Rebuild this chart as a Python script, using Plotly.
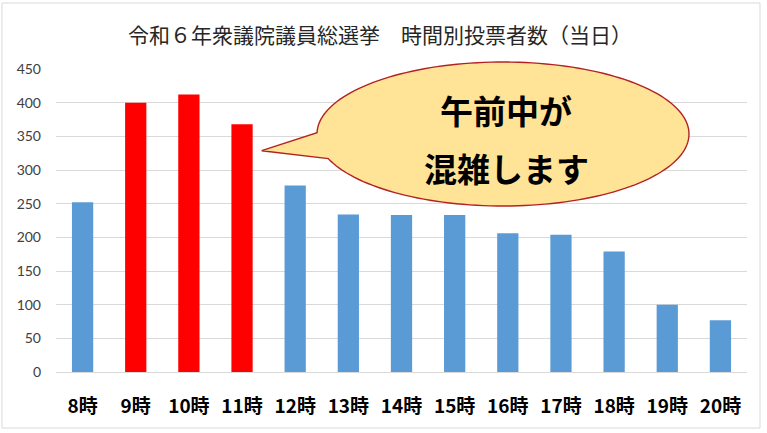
import numpy as np
import plotly.graph_objects as go

# ---- data ----
hours = ["8時", "9時", "10時", "11時", "12時", "13時", "14時",
         "15時", "16時", "17時", "18時", "19時", "20時"]
voters = [252, 400, 412, 368, 277, 234, 233, 233, 206, 204, 179, 100, 77]
highlight = [False, True, True, True, False, False, False,
             False, False, False, False, False, False]
title_text = "令和６年衆議院議員総選挙　時間別投票者数（当日）"
bubble_lines = ["午前中が", "混雑します"]

W, H = 767, 433
L, R, T, B = 56, 20, 69, 61
PW, PH = W - L - R, H - T - B


def px(x):
    return (x - L) / PW


def py(y):
    return (H - B - y) / PH


colors = ["#FF0000" if h else "#5B9BD5" for h in highlight]

fig = go.Figure(go.Bar(x=hours, y=voters, marker=dict(color=colors, line=dict(width=0)),
                       width=0.4))

# speech bubble path (pixel geometry -> paper)
cx, cy, rx, ry = 503, 134, 186, 72
ts = np.deg2rad(np.linspace(181, 520, 160))
pts = [(cx + rx * np.cos(t), cy + ry * np.sin(t)) for t in ts]
pts.append((261.7, 150.7))
path = "M " + " L ".join(f"{px(a):.5f},{py(b):.5f}" for a, b in pts) + " Z"

shapes = [
    dict(type="rect", xref="paper", yref="paper",
         x0=px(2), x1=px(760), y0=py(428), y1=py(3),
         line=dict(color="#D9D9D9", width=1), fillcolor="rgba(0,0,0,0)", layer="below"),
    dict(type="path", xref="paper", yref="paper", path=path,
         fillcolor="#FFE397", line=dict(color="#B22222", width=1.4), layer="above"),
]

annotations = [
    dict(text=title_text, xref="paper", yref="paper", x=px(380), y=py(34),
         showarrow=False, xanchor="center", yanchor="middle",
         font=dict(family="Noto Sans CJK JP", size=21, color="#262626")),
    dict(text=bubble_lines[0], xref="paper", yref="paper", x=px(506), y=py(110),
         showarrow=False, xanchor="center", yanchor="middle",
         font=dict(family="Noto Sans CJK JP", size=33, color="#000000", weight="bold")),
    dict(text=bubble_lines[1], xref="paper", yref="paper", x=px(506), y=py(168),
         showarrow=False, xanchor="center", yanchor="middle",
         font=dict(family="Noto Sans CJK JP", size=33, color="#000000", weight="bold")),
]

fig.update_layout(
    width=W, height=H,
    margin=dict(l=L, r=R, t=T, b=B, autoexpand=False),
    paper_bgcolor="white", plot_bgcolor="white",
    showlegend=False,
    shapes=shapes, annotations=annotations,
    bargap=0.6,
)
fig.update_yaxes(range=[0, 450], dtick=50, showgrid=True, gridcolor="#D9D9D9", gridwidth=1,
                 zeroline=False, showline=False, ticks="", ticklabelstandoff=14,
                 tickfont=dict(family="Lato", size=14, color="#404040"), fixedrange=True)
fig.update_xaxes(showline=True, linecolor="#D9D9D9", linewidth=1, ticks="",
                 ticklabelstandoff=17,
                 tickfont=dict(family="Noto Sans CJK JP", size=19, color="#000000", weight="bold"))

fig.write_html("out.html", config={"displayModeBar": False},
               post_script="document.body.style.margin='0px';")
